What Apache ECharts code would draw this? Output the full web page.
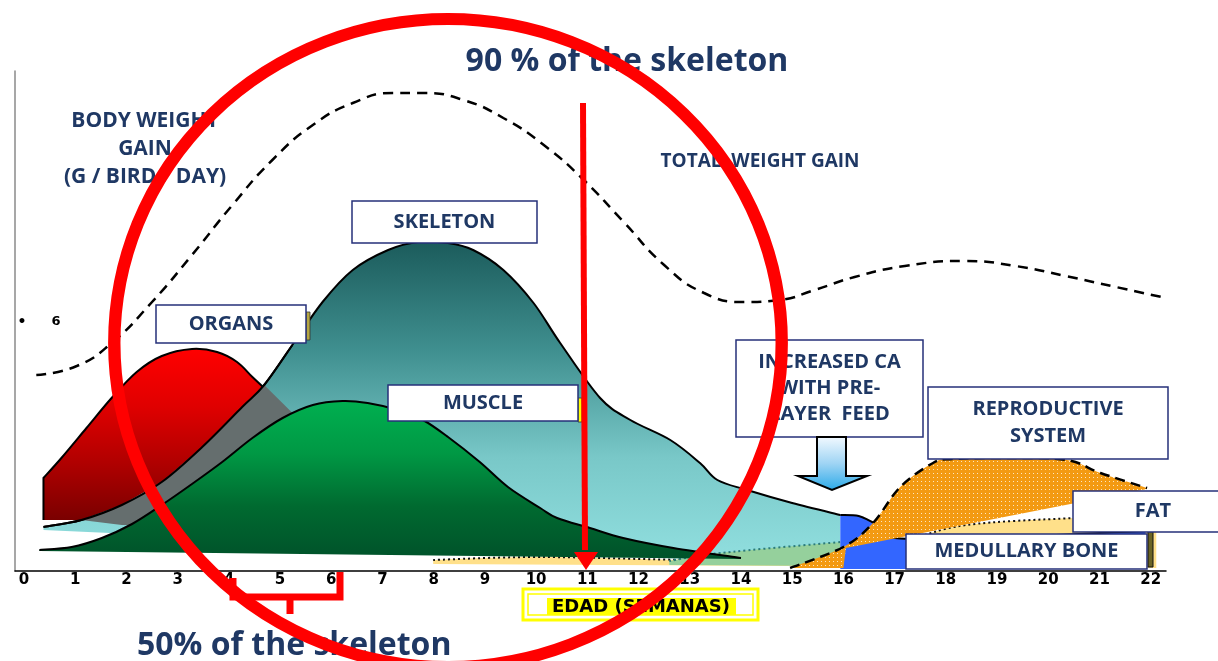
<!DOCTYPE html>
<html>
<head>
<meta charset="utf-8">
<script src="https://cdn.jsdelivr.net/npm/echarts@6.0.0/dist/echarts.min.js"></script>
<style>
    html, body { margin: 0; padding: 0; background: #fff; }
    #main { width: 1218px; height: 661px; }
</style>
</head>
<body>
<div id="main"></div>
<script>
// x = age in weeks, y = height above the axis (chart units)
var xTicks = [0, 1, 2, 3, 4, 5, 6, 7, 8, 9, 10, 11, 12, 13, 14, 15, 16, 17, 18, 19, 20, 21, 22];

var totalGain = [[0.24, 196], [1.03, 205], [1.71, 228], [2.50, 269], [3.28, 316], [4.07, 366], [4.85, 411],
    [5.64, 446], [6.42, 468], [7.20, 478], [7.79, 478], [8.58, 471], [9.36, 453], [10.15, 426], [10.93, 391],
    [11.71, 349], [12.50, 306], [13.28, 278], [14.07, 269], [14.75, 271], [15.44, 281], [16.22, 294],
    [17.20, 305], [18.38, 310], [19.36, 305], [20.34, 295], [21.32, 284], [22.30, 273]];

var skeletonTop = [[0.38, 44], [1.12, 51], [1.91, 66], [2.69, 89], [3.48, 124], [4.26, 164], [4.69, 186],
    [5.24, 226], [5.83, 269], [6.42, 301], [7.11, 321], [7.69, 329], [8.28, 328], [8.77, 321], [9.36, 301],
    [9.95, 268], [10.47, 228], [11.25, 173], [11.84, 151], [12.62, 131], [13.2, 108], [13.54, 91],
    [14.12, 81], [15.0, 68], [15.94, 56]];
var skeletonBase = [[15.94, 5], [0.38, 41]];

var organTop = [[0.38, 93], [0.73, 113], [1.22, 143], [1.71, 173], [2.20, 199], [2.69, 215], [3.28, 222],
    [3.77, 219], [4.16, 209], [4.46, 194], [4.69, 183]];
var organBase = [[4.26, 164], [3.48, 124], [2.69, 89], [1.91, 66], [1.12, 51], [0.38, 51]];

// organs seen through the skeleton
var organOverlap = [[4.69, 186], [4.26, 164], [3.48, 124], [2.69, 89], [1.91, 66], [1.12, 51], [1.91, 46],
    [3.0, 45], [5.0, 100], [5.40, 150]];

var muscleTop = [[0.30, 21], [0.93, 24], [1.52, 33], [2.11, 47], [2.69, 66], [3.28, 87], [3.87, 109],
    [4.46, 133], [5.05, 153], [5.64, 166], [6.22, 170], [6.71, 168], [7.30, 161], [7.79, 151], [8.28, 134],
    [8.9, 109], [9.45, 84], [10.08, 63], [10.41, 53], [11.05, 43], [11.7, 33], [12.68, 23], [14.0, 13]];
var muscleBase = [[14.0, 12], [0.30, 20]];

var fatTop = [[7.99, 11], [10.08, 14], [13.2, 11], [15.94, 13], [17.2, 30], [18.4, 46], [20.5, 53], [22.11, 56]];
var fatBase = [[22.11, 3], [7.99, 7]];

var greenTop = [[12.6, 10], [13.6, 18], [15.94, 29]];
var greenBase = [[15.94, 5], [12.6, 6]];

var boneTop = [[15.94, 56], [16.3, 55], [16.6, 48], [17.3, 32], [21.9, 40]];
var boneBase = [[21.9, 2], [15.94, 2]];

var reproTop = [[14.96, 3], [16.0, 24], [16.58, 48], [17.11, 84], [17.75, 108], [18.14, 112], [19.26, 113],
    [20.37, 111], [21.02, 98], [21.93, 83]];
var reproBase = [[21.93, 82], [16.05, 23], [16.0, 3]];

var navy = '#1f3864';
var boxFont = 'bold 20px "Open Sans"';

var chartDom = document.getElementById('main');
var myChart = echarts.init(chartDom);

// catmull-rom through pixel points, as cubic beziers
function smoothPath(pts) {
    var d = 'M' + pts[0][0] + ' ' + pts[0][1];
    for (var i = 0; i < pts.length - 1; i++) {
        var p0 = pts[i - 1] || pts[i];
        var p1 = pts[i];
        var p2 = pts[i + 1];
        var p3 = pts[i + 2] || p2;
        d += ' C' + (p1[0] + (p2[0] - p0[0]) / 6) + ' ' + (p1[1] + (p2[1] - p0[1]) / 6) +
            ' ' + (p2[0] - (p3[0] - p1[0]) / 6) + ' ' + (p2[1] - (p3[1] - p1[1]) / 6) +
            ' ' + p2[0] + ' ' + p2[1];
    }
    return d;
}

function linePath(pts) {
    return pts.map(function (p) { return 'L' + p[0] + ' ' + p[1]; }).join(' ');
}

function grad(stops) {
    return new echarts.graphic.LinearGradient(0, 0, 0, 1, stops.map(function (c, i) {
        return { offset: i / (stops.length - 1), color: c };
    }));
}

// filled region: smooth top edge, straight base, optional outline on the top edge
function areaSeries(top, base, fill, outline, lead) {
    return {
        type: 'custom',
        silent: true,
        data: [[0, 0]],
        encode: { x: 0, y: 1 },
        renderItem: function (params, api) {
            var t = top.map(function (p) { return api.coord(p); });
            var b = base.map(function (p) { return api.coord(p); });
            var children = [{
                type: 'path',
                shape: { pathData: smoothPath(t) + ' ' + linePath(b) + ' Z' },
                style: { fill: fill }
            }];
            if (outline) {
                var d = smoothPath(t);
                if (lead) {
                    var l = api.coord(lead);
                    d = 'M' + l[0] + ' ' + l[1] + ' L' + t[0][0] + ' ' + t[0][1] + d.replace(/^M[^C]*/, ' ');
                }
                children.push({
                    type: 'path',
                    shape: { pathData: d },
                    style: Object.assign({ fill: 'none' }, outline)
                });
            }
            return { type: 'group', children: children };
        }
    };
}

function polySeries(pts, fill) {
    return {
        type: 'custom',
        silent: true,
        data: [[0, 0]],
        encode: { x: 0, y: 1 },
        renderItem: function (params, api) {
            return {
                type: 'polygon',
                shape: { points: pts.map(function (p) { return api.coord(p); }) },
                style: { fill: fill }
            };
        }
    };
}

// orange with white dots
var dots = document.createElement('canvas');
dots.width = 4;
dots.height = 4;
var dctx = dots.getContext('2d');
dctx.fillStyle = '#f39a12';
dctx.fillRect(0, 0, 4, 4);
dctx.fillStyle = 'rgba(255,255,255,0.75)';
dctx.fillRect(1, 1, 1, 1);

function box(x, y, w, h, text, lh, tx) {
    return [
        { type: 'rect', z: 100, shape: { x: x, y: y, width: w, height: h },
          style: { fill: '#fff', stroke: '#26307a', lineWidth: 1.5 } },
        { type: 'text', z: 101, x: tx || x + w / 2, y: y + h / 2,
          style: { text: text, font: boxFont, fill: navy, align: 'center', verticalAlign: 'middle',
                   textAlign: 'center', textVerticalAlign: 'middle', lineHeight: lh || 26 } }
    ];
}

function label(x, y, text, font, align) {
    return { type: 'text', z: 101, x: x, y: y,
             style: { text: text, font: font, fill: navy, align: align || 'center', verticalAlign: 'middle',
                      textAlign: align || 'center', textVerticalAlign: 'middle', lineHeight: 28 } };
}

var red = '#ff0000';
var graphics = [].concat(
    [
        label(627, 62, '90 % of the skeleton', 'bold 32px "Open Sans"'),
        label(137, 646, '50% of the skeleton', 'bold 32px "Open Sans"', 'left'),
        label(145, 149, 'BODY WEIGHT\nGAIN\n(G / BIRD / DAY)', 'bold 21px "Open Sans"'),
        label(760, 162, 'TOTAL  WEIGHT GAIN', 'bold 19px "Open Sans"'),
        { type: 'text', z: 101, x: 22, y: 322, style: { text: '•', font: 'bold 14px "DejaVu Sans"', fill: '#000', align: 'center', verticalAlign: 'middle', textAlign: 'center', textVerticalAlign: 'middle' } },
        { type: 'text', z: 101, x: 56, y: 322, style: { text: '6', font: 'bold 13px "DejaVu Sans"', fill: '#000', align: 'center', verticalAlign: 'middle', textAlign: 'center', textVerticalAlign: 'middle' } },
        { type: 'rect', z: 99, shape: { x: 306, y: 312, width: 4, height: 28 }, style: { fill: '#b5a642', stroke: '#333', lineWidth: 0.8 } },
        { type: 'rect', z: 99, shape: { x: 578, y: 398, width: 4, height: 24 }, style: { fill: '#ffff00', stroke: '#333', lineWidth: 0.8 } },
        { type: 'rect', z: 99, shape: { x: 1148, y: 531, width: 5, height: 36 }, style: { fill: '#6b6424', stroke: '#111', lineWidth: 1 } }
    ],
    box(352, 201, 185, 42, 'SKELETON'),
    box(156, 305, 150, 38, 'ORGANS'),
    box(388, 385, 190, 36, 'MUSCLE'),
    box(736, 340, 187, 97, 'INCREASED CA\nWITH PRE-\nLAYER  FEED', 26),
    box(928, 387, 240, 72, 'REPRODUCTIVE\nSYSTEM', 27),
    box(1073, 491, 150, 41, 'FAT', 26, 1153),
    box(906, 534, 241, 35, 'MEDULLARY BONE'),
    [
        // arrow under the pre-layer feed box
        { type: 'polygon', z: 100,
          shape: { points: [[817, 437], [846, 437], [846, 476], [867, 476], [832, 490], [798, 476], [817, 476]] },
          style: { fill: grad(['#f4faff', '#9fd4f4', '#29a9e8']), stroke: '#000', lineWidth: 2 } },
        // axis caption
        { type: 'rect', z: 100, shape: { x: 523, y: 589, width: 235, height: 31 }, style: { fill: 'none', stroke: '#ffff00', lineWidth: 3 } },
        { type: 'rect', z: 100, shape: { x: 528, y: 594, width: 225, height: 21 }, style: { fill: 'none', stroke: '#ffff00', lineWidth: 1.5 } },
        { type: 'rect', z: 100, shape: { x: 547, y: 598, width: 189, height: 17 }, style: { fill: '#ffff00' } },
        { type: 'text', z: 101, x: 641, y: 607, style: { text: 'EDAD (SEMANAS)', font: 'bold 18px "DejaVu Sans"', fill: '#000', align: 'center', verticalAlign: 'middle', textAlign: 'center', textVerticalAlign: 'middle' } },
        // red marks
        { type: 'line', z: 200, shape: { x1: 583, y1: 103, x2: 585, y2: 550 }, style: { stroke: red, lineWidth: 6 } },
        { type: 'polygon', z: 200, shape: { points: [[574, 552], [598, 552], [586, 570]] }, style: { fill: red } },
        { type: 'polyline', z: 200, shape: { points: [[233, 578], [233, 597], [340, 597], [340, 572]] }, style: { stroke: red, lineWidth: 7, fill: 'none' } },
        { type: 'line', z: 200, shape: { x1: 290, y1: 597, x2: 290, y2: 614 }, style: { stroke: red, lineWidth: 7 } },
        { type: 'circle', z: 210, x: 448, y: 343, scaleX: 1.03, shape: { cx: 0, cy: 0, r: 324 }, style: { fill: 'none', stroke: red, lineWidth: 12 } }
    ]
);

var option = {
    animation: false,
    grid: { left: 15, right: 52, top: 71, bottom: 90 },
    xAxis: {
        type: 'value',
        min: -0.176,
        max: 22.3,
        splitLine: { show: false },
        axisTick: { show: false },
        axisLine: { show: true, lineStyle: { color: '#000', width: 1.5 } },
        axisLabel: {
            customValues: xTicks,
            color: '#000',
            fontWeight: 'bold',
            fontSize: 15,
            fontFamily: 'DejaVu Sans',
            margin: 2
        }
    },
    yAxis: {
        type: 'value',
        min: 0,
        max: 500,
        splitLine: { show: false },
        axisTick: { show: false },
        axisLabel: { show: false },
        axisLine: { show: true, onZero: false, lineStyle: { color: '#8a8a8a', width: 1.5 } }
    },
    series: [
        areaSeries(skeletonTop, skeletonBase, grad(['#1b5b5b', '#3f8f8f', '#79c8c8', '#92e0e0']), { stroke: '#000', lineWidth: 2 }),
        areaSeries(fatTop, fatBase, '#ffe08a', { stroke: '#111', lineWidth: 2, lineDash: [2, 3] }),
        areaSeries(greenTop, greenBase, '#95d09c', { stroke: '#2b7b7b', lineWidth: 2, lineDash: [2, 3] }),
        areaSeries(organTop, organBase, grad(['#ff0000', '#e00000', '#b00000', '#7a0000']), { stroke: '#000', lineWidth: 2 }, organBase[organBase.length - 1]),
        polySeries(organOverlap, '#656e6e'),
        areaSeries(skeletonTop.slice(0, 8), [[5.4, 150], [5.0, 100]], 'none', { stroke: '#000', lineWidth: 2 }),
        areaSeries(muscleTop, muscleBase, grad(['#00b050', '#009844', '#006a30', '#00522a']), { stroke: '#000', lineWidth: 2 }),
        areaSeries(boneTop, boneBase, '#3366ff', { stroke: '#000', lineWidth: 2 }),
        areaSeries(reproTop, reproBase, { image: dots, repeat: 'repeat' }, { stroke: '#000', lineWidth: 2.5, lineDash: [10, 6] }),
        {
            type: 'line',
            data: totalGain,
            smooth: 0.5,
            symbol: 'none',
            silent: true,
            z: 5,
            lineStyle: { color: '#000', width: 2.5, type: [10, 7] }
        }
    ],
    graphic: { elements: graphics }
};

option && myChart.setOption(option);
</script>
</body>
</html>
